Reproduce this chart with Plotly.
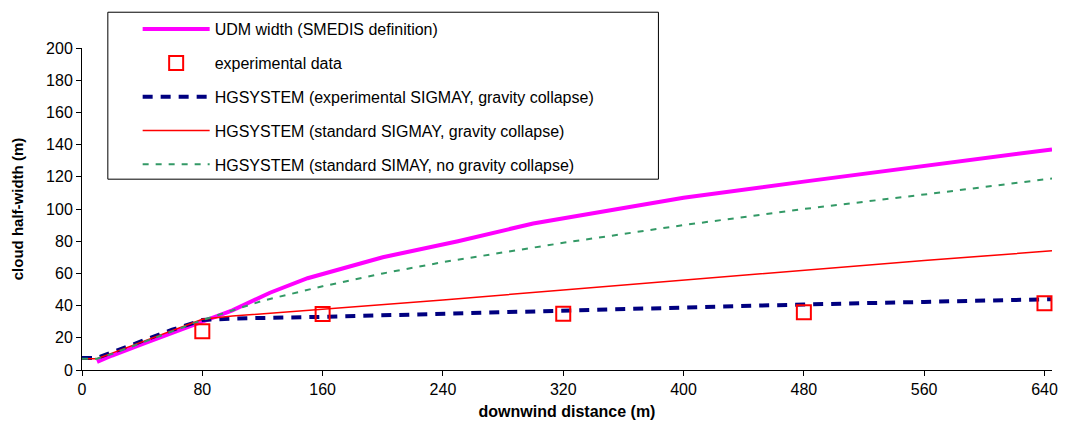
import plotly.graph_objects as go

# UDM cloud half-width (SMEDIS definition)
udm_x = [10, 20, 40, 60, 80, 100, 125, 150, 200, 250, 300, 400, 480, 560, 645]
udm_y = [5, 9, 16, 23, 30, 37, 48, 57, 70, 80, 91, 107, 117, 127, 137]

# Experimental measurements
exp_x = [80, 160, 320, 480, 640]
exp_y = [24, 34.8, 35, 35.8, 41.4]

# HGSYSTEM, experimental SIGMAY, gravity collapse
hg_exp_x = [0, 10, 20, 40, 60, 80, 100, 160, 240, 320, 400, 480, 560, 645]
hg_exp_y = [7.5, 7.5, 11, 18, 25, 31, 32, 33, 35, 37, 39, 40.7, 42.3, 44]

# HGSYSTEM, standard SIGMAY, gravity collapse
hg_std_x = [0, 10, 20, 40, 60, 80, 100, 160, 240, 320, 400, 480, 560, 645]
hg_std_y = [7, 7, 10.5, 17.5, 24.5, 31.5, 33.5, 37.6, 43.5, 49.7, 55.8, 61.8, 68, 74]

# HGSYSTEM, standard SIGMAY, no gravity collapse
hg_nogc_x = [0, 10, 20, 40, 60, 80, 100, 120, 160, 200, 240, 320, 400, 480, 560, 645]
hg_nogc_y = [7, 7, 10, 17, 24, 31, 37, 43, 52, 60, 67, 79, 90, 100, 109, 119]

x_ticks = [0, 80, 160, 240, 320, 400, 480, 560, 640]
y_ticks = [0, 20, 40, 60, 80, 100, 120, 140, 160, 180, 200]

FONT = "Liberation Sans, Arial, sans-serif"

fig = go.Figure()

fig.add_trace(go.Scatter(
    x=udm_x, y=udm_y, mode="lines", name="UDM width (SMEDIS definition)",
    line=dict(color="#FF00FF", width=4), legendgroup="a", legendrank=1))
fig.add_trace(go.Scatter(
    x=hg_exp_x, y=hg_exp_y, mode="lines",
    name="HGSYSTEM (experimental SIGMAY, gravity collapse)",
    line=dict(color="#000080", width=4, dash="10px,8px"), legendgroup="c", legendrank=3))
fig.add_trace(go.Scatter(
    x=hg_std_x, y=hg_std_y, mode="lines",
    name="HGSYSTEM (standard SIGMAY, gravity collapse)",
    line=dict(color="#FF0000", width=1.5), legendgroup="d", legendrank=4))
fig.add_trace(go.Scatter(
    x=hg_nogc_x, y=hg_nogc_y, mode="lines",
    name="HGSYSTEM (standard SIMAY, no gravity collapse)",
    line=dict(color="#339966", width=2, dash="6px,7px"), legendgroup="e", legendrank=5))
fig.add_trace(go.Scatter(
    x=exp_x, y=exp_y, mode="markers", name="experimental data",
    marker=dict(symbol="square-open", size=14, color="#FF0000", line=dict(width=2)),
    legendgroup="b", legendrank=2, cliponaxis=False))

# Plot area geometry (pixels) used to place the legend frame
L, R, T, B = 82, 12, 46, 60
W, H = 1070 - L - R, 430 - T - B


def px_x(p):
    return (p - L) / W


def px_y(p):
    return (430 - B - p) / H


fig.add_shape(type="rect", xref="paper", yref="paper",
              x0=px_x(108), x1=px_x(662), y0=px_y(178), y1=px_y(10),
              line=dict(color="black", width=1), fillcolor="white", layer="below")

fig.update_layout(
    width=1070, height=430,
    margin=dict(l=L, r=R, t=T, b=B),
    paper_bgcolor="white", plot_bgcolor="white",
    font=dict(family=FONT, size=16, color="black"),
    showlegend=True,
    legend=dict(
        x=px_x(138), y=px_y(10), xanchor="left", yanchor="top",
        bgcolor="rgba(0,0,0,0)", borderwidth=0,
        traceorder="grouped", tracegroupgap=10, itemwidth=67,
        font=dict(family=FONT, size=16, color="black"),
    ),
    xaxis=dict(
        range=[0, 645], tickvals=x_ticks, ticktext=[str(v) for v in x_ticks],
        showgrid=False, zeroline=False, showline=True, linecolor="black", linewidth=1,
        ticks="outside", ticklen=5, tickcolor="black",
        title=dict(text="<b>downwind distance (m)</b>", font=dict(size=16), standoff=8),
    ),
    yaxis=dict(
        range=[0, 200], tickvals=y_ticks, ticktext=[str(v) for v in y_ticks],
        showgrid=False, zeroline=False, showline=True, linecolor="black", linewidth=1,
        ticks="outside", ticklen=5, tickcolor="black",
        title=dict(text="<b>cloud half-width (m)</b>", font=dict(size=15), standoff=18),
    ),
)

fig.write_html("out.html")
